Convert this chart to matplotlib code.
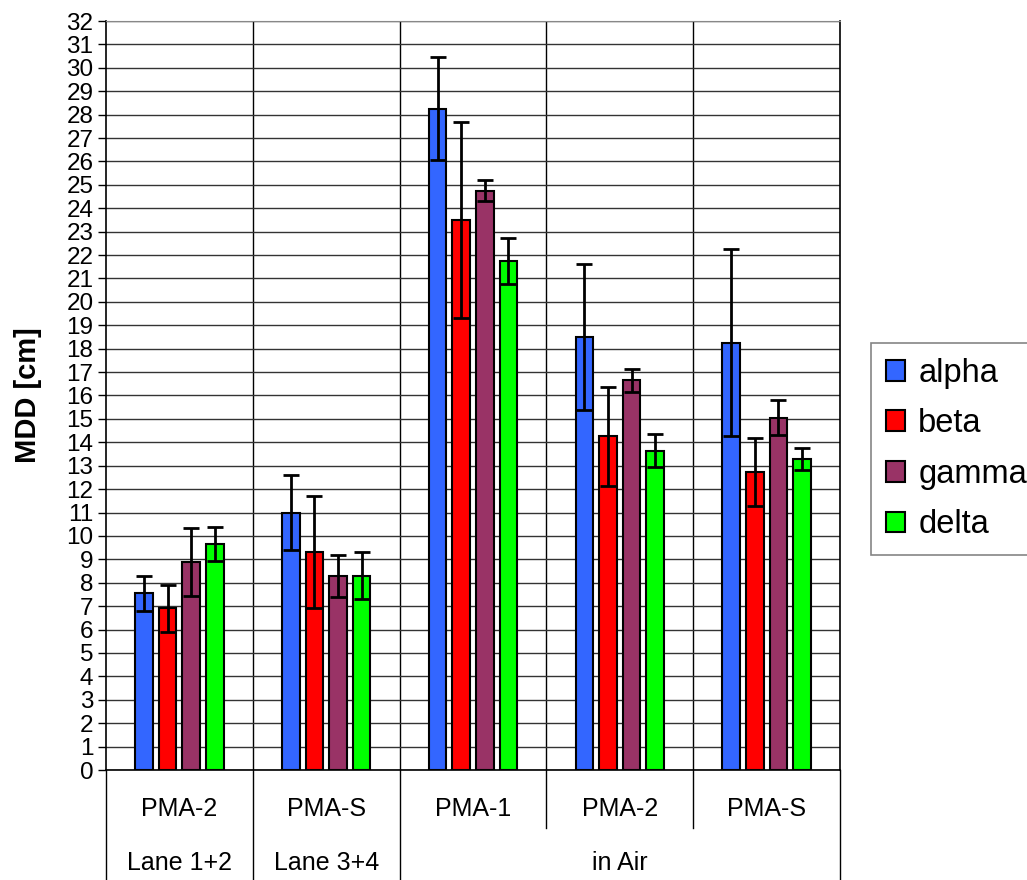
import matplotlib

matplotlib.use("Agg")
import matplotlib.pyplot as plt
import matplotlib.transforms as mtransforms
from matplotlib.patches import Patch
import numpy as np

plt.rcParams["font.family"] = ["Liberation Sans", "DejaVu Sans"]

# --- data ---
instruments = ["PMA-2", "PMA-S", "PMA-1", "PMA-2", "PMA-S"]
conditions = ["Lane 1+2", "Lane 3+4", "in Air"]
condition_spans = [(0, 1), (1, 2), (2, 5)]
series = ["alpha", "beta", "gamma", "delta"]
colors = ["#3366FF", "#FF0000", "#993366", "#00FF00"]

alpha = [7.55, 11.0, 28.25, 18.5, 18.25]
alpha_err = [0.75, 1.6, 2.2, 3.1, 4.0]
beta = [6.9, 9.3, 23.5, 14.25, 12.75]
beta_err = [1.0, 2.4, 4.2, 2.1, 1.45]
gamma = [8.9, 8.3, 24.75, 16.65, 15.05]
gamma_err = [1.45, 0.9, 0.45, 0.5, 0.75]
delta = [9.65, 8.3, 21.75, 13.65, 13.3]
delta_err = [0.72, 1.0, 0.97, 0.72, 0.47]

values = [alpha, beta, gamma, delta]
errors = [alpha_err, beta_err, gamma_err, delta_err]

W, H = 1027, 880
fig = plt.figure(figsize=(W / 100, H / 100), dpi=100)
ax = fig.add_axes([106 / W, 110 / H, 734 / W, 749 / H])

x = np.arange(len(instruments))
step = 0.161
width = 0.12
for i, (vals, errs, col) in enumerate(zip(values, errors, colors)):
    ax.bar(x + (i - 1.5) * step, vals, width, yerr=errs, color=col,
           edgecolor="black", linewidth=1.5, zorder=3,
           error_kw=dict(ecolor="black", elinewidth=2, capsize=5.5,
                         capthick=2, zorder=4))

ax.set_xlim(-0.5, len(instruments) - 0.5)
ax.set_ylim(0, 32)
ax.set_yticks(range(0, 33))
ax.tick_params(axis="y", direction="out", length=6, width=1,
               labelsize=17.5, pad=3)
ax.set_xticks([])
ax.grid(axis="y", color="#333333", linewidth=1, zorder=0)
for b in np.arange(0.5, len(instruments) - 0.5, 1.0):
    ax.axvline(b, color="black", linewidth=1, zorder=0)
for s in ["left", "right", "bottom"]:
    ax.spines[s].set_color("black")
    ax.spines[s].set_linewidth(1.2)
ax.spines["top"].set_color("#888888")

ax.set_ylabel("MDD [cm]", fontsize=21, fontweight="bold")
ax.yaxis.set_label_coords(-64 / 734, 0.5)

# --- category axis below the plot ---
trans = mtransforms.blended_transform_factory(ax.transData, ax.transAxes)
y_full = -110 / 749
y_short = -58 / 749
for i, name in enumerate(instruments):
    ax.text(i, -39 / 749, name, transform=trans, ha="center", va="center",
            fontsize=18)
for (a, b), name in zip(condition_spans, conditions):
    ax.text((a + b) / 2 - 0.5, -93 / 749, name, transform=trans,
            ha="center", va="center", fontsize=18)
edges = [e for span in condition_spans for e in span]
for b in np.arange(-0.5, len(instruments) + 0.5, 1.0):
    full = any(abs(b - (e - 0.5)) < 1e-6 for e in edges)
    ax.plot([b, b], [0, y_full if full else y_short], transform=trans,
            color="black", linewidth=1, clip_on=False)

handles = [Patch(facecolor=c, edgecolor="black", linewidth=1.5, label=s)
           for s, c in zip(series, colors)]
leg = fig.legend(handles=handles, loc="upper left",
                 bbox_to_anchor=(871 / W, 1 - 343 / H), fontsize=23.5,
                 frameon=True, fancybox=False, handlelength=0.6,
                 handleheight=0.6, handletextpad=0.4, labelspacing=0.6,
                 borderpad=0.45, borderaxespad=0)
leg.get_frame().set_edgecolor("#666666")
leg.get_frame().set_linewidth(1.2)

fig.savefig("out.png", dpi=100, facecolor="white")
